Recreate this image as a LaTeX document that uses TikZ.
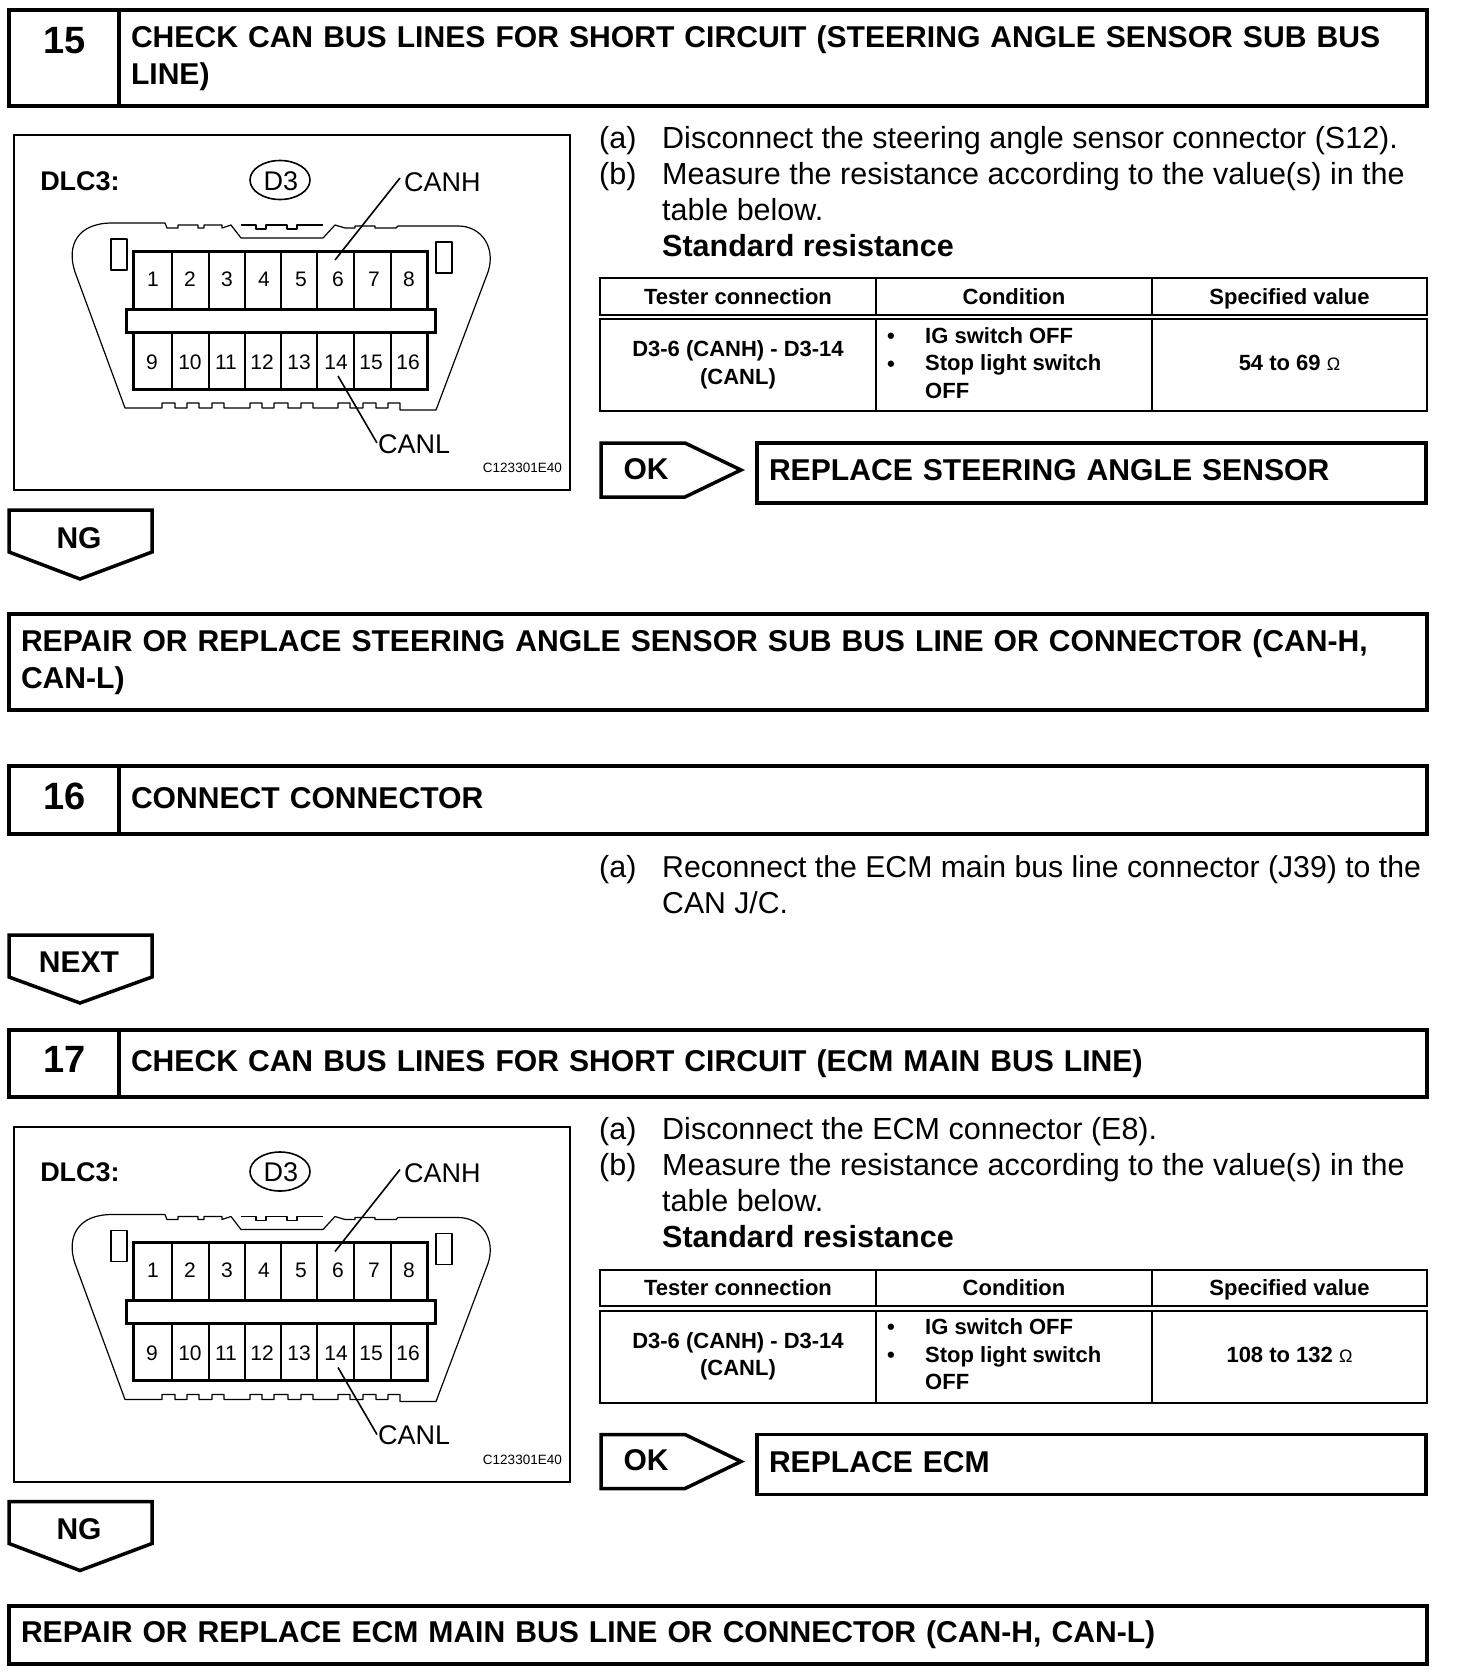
\documentclass[tikz,border=0pt]{standalone}
\usepackage{fontspec}
\setmainfont{Liberation Sans}
\usetikzlibrary{positioning,calc}

\tikzset{
  heavybox/.style={draw,line width=3.5pt,outer sep=0pt,anchor=north west,inner ysep=0pt,inner xsep=12pt,align=left,font=\fontsize{30.1}{37}\selectfont\bfseries},
  numbox/.style={draw,line width=3.5pt,outer sep=0pt,anchor=north west,inner sep=0pt,minimum width=110pt},
  numtext/.style={inner sep=0pt,font=\fontsize{38}{40}\selectfont\bfseries},
  flag/.style={draw,line width=3.5pt,line join=miter},
  flagtext/.style={inner sep=0pt,font=\fontsize{30}{32}\selectfont\bfseries},
  body/.style={anchor=north west,inner sep=0pt,align=left,font=\fontsize{30.5}{36}\selectfont},
  cell/.style={draw,line width=2pt,outer sep=0pt,anchor=north west,inner sep=0pt},
  celltext/.style={inner sep=0pt,align=center,font=\fontsize{22}{27.5}\selectfont\bfseries},
  headtext/.style={celltext,text height=16pt,text depth=0pt},
  pin/.style={inner sep=0pt,font=\fontsize{21}{21}\selectfont},
  tag/.style={inner sep=0pt,font=\fontsize{27}{28}\selectfont},
  shell/.style={line width=1.2pt,line join=round},
  wall/.style={line width=2.4pt},
  leader/.style={line width=1.6pt},
}

\begin{document}
\begin{tikzpicture}[x=1pt,y=-1pt]
\useasboundingbox (0,0) rectangle (1456,1678);

% step 15
\node[numbox,minimum height=96pt] (num15) at (9,10) {};
\node[numtext] (numt15) at (65,41) {15};
\node[heavybox,text width=1284pt,minimum height=96pt] (title15) at (119,10) {CHECK CAN BUS LINES FOR SHORT CIRCUIT (STEERING ANGLE SENSOR SUB BUS\\LINE)};
\node[heavybox,text width=1394pt,minimum height=96pt] (repair15) at (9,614) {REPAIR OR REPLACE STEERING ANGLE SENSOR SUB BUS LINE OR CONNECTOR (CAN-H,\\CAN-L)};

% step 16
\node[numbox,minimum height=68pt] (num16) at (9,766) {};
\node[numtext] (numt16) at (65,796) {16};
\node[heavybox,text width=1284pt,minimum height=68pt,text depth=4pt] (title16) at (119,766) {CONNECT CONNECTOR};
\node[body] (lab16) at (599,855) {(a)};
\node[body,font=\fontsize{30.2}{36}\selectfont] (txt16) at (662,855) {Reconnect the ECM main bus line connector (J39) to the\\CAN J/C.};
\draw[flag] (9,935) -- (152,935) -- (152,977) -- (80,1003) -- (9,977) -- cycle;
\node[flagtext] (next16) at (79,962) {NEXT};

% step 17
\node[numbox,minimum height=67pt] (num17) at (9,1030) {};
\node[numtext] (numt17) at (65,1059) {17};
\node[heavybox,text width=1284pt,minimum height=67pt] (title17) at (119,1030) {CHECK CAN BUS LINES FOR SHORT CIRCUIT (ECM MAIN BUS LINE)};
\node[heavybox,text width=1394pt,minimum height=58pt] (repair17) at (9,1606) {REPAIR OR REPLACE ECM MAIN BUS LINE OR CONNECTOR (CAN-H, CAN-L)};

% the two measuring steps
\foreach \sec/\dy/\part/\spec/\repl in {
  15/0/{Disconnect the steering angle sensor connector (S12).}/{54 to 69}/{REPLACE STEERING ANGLE SENSOR},
  17/991.5/{Disconnect the ECM connector (E8).}/{108 to 132}/{REPLACE ECM}} {
\begin{scope}[shift={(0,\dy)}]

\node[cell,minimum width=556pt,minimum height=355pt] (diag\sec) at (14,135) {};
\node[inner sep=0pt,font=\fontsize{27}{28}\selectfont\bfseries] (dlc\sec) at (80,181) {DLC3:};
\draw[line width=1.6pt] (280,180) ellipse (30 and 19.5);
\node[tag] (d3\sec) at (281,181) {D3};

% connector shell
\draw[shell] (125,408) -- (75,272) .. controls (66,245) and (78,223) .. (112,223) -- (165,223) -- (167,228)
  -- (178,228) -- (178,225) -- (198,225) -- (198,228) -- (204,228) -- (204,225) -- (222,225) -- (222,228) -- (231,225)
  -- (241,238) -- (323,238) -- (335,225) -- (345,228) -- (355,228) -- (355,226) -- (375,226) -- (375,228) -- (396,228) -- (398,226)
  -- (458,226) .. controls (482,226) and (496,248) .. (488,272) -- (436,410) -- (400,410)
  \foreach \l/\r in {388/400,363/376,338/350,301/313,274/288,250/262,212/224,187/199,162/175} { -- (\r,408) -- (\r,403) -- (\l,403) -- (\l,408)} -- cycle;
\draw[shell] (241,225) -- (256,225) -- (256,229) -- (266,229) -- (266,225) -- (287,225) -- (287,229) -- (297,229) -- (297,225) -- (323,225);
\draw[shell] (111,239) rectangle (127,270);
\draw[shell] (436,242) rectangle (452,273);

% pins
\draw[wall,line width=3pt] (133.5,251) rectangle (427.5,389);
\foreach \px in {172,209,245,281,317,354,391} {
  \draw[wall] (\px,251) -- (\px,389);
}
\draw[wall,line width=3pt,fill=white] (126,309) rectangle (435,332);
\foreach \k/\px in {1/153,2/190,3/227,4/264,5/301,6/338,7/374,8/409} {
  \node[pin] (pin\sec-\k) at (\px,279) {\k};
}
\foreach \k/\px in {9/152,10/190,11/226,12/262,13/299,14/336,15/371,16/408} {
  \node[pin] (pin\sec-\k) at (\px,362) {\k};
}

\coordinate (hi\sec) at (335,260);
\coordinate (hiend\sec) at (400,178);
\coordinate (lo\sec) at (338,376);
\coordinate (loend\sec) at (377,443);
\draw[leader] (hi\sec) -- (hiend\sec);
\draw[leader] (lo\sec) -- (loend\sec);
\node[tag,anchor=west] (canh\sec) at (404,182) {CANH};
\node[tag,anchor=west] (canl\sec) at (378,444) {CANL};
\node[inner sep=0pt,anchor=east,font=\fontsize{13.5}{14}\selectfont] (code\sec) at (562,468) {C123301E40};

% right column
\node[body] (laba\sec) at (599,126) {(a)};
\node[body] (txta\sec) at (662,126) {\part};
\node[body] (labb\sec) at (599,162) {(b)};
\node[body] (txtb\sec) at (662,162) {Measure the resistance according to the value(s) in the\\table below.\\\textbf{Standard resistance}};

% table
\node[cell,minimum width=276pt,minimum height=36.5pt] (hda\sec) at (600,278) {};
\node[cell,minimum width=276pt,minimum height=36.5pt] (hdb\sec) at (876,278) {};
\node[cell,minimum width=275pt,minimum height=36.5pt] (hdc\sec) at (1152,278) {};
\node[cell,minimum width=276pt,minimum height=92pt] (cla\sec) at (600,319) {};
\node[cell,minimum width=276pt,minimum height=92pt] (clb\sec) at (876,319) {};
\node[cell,minimum width=275pt,minimum height=92pt] (clc\sec) at (1152,319) {};
\node[headtext] (hta\sec) at (hda\sec.center) {Tester connection};
\node[headtext] (htb\sec) at (hdb\sec.center) {Condition};
\node[headtext] (htc\sec) at (hdc\sec.center) {Specified value};
\node[celltext] (cta\sec) at (cla\sec.center) {D3-6 (CANH) - D3-14\\(CANL)};
\node[celltext,anchor=north west,align=left] (ctb\sec) at (925,327) {IG switch OFF\\Stop light switch\\OFF};
\node[celltext] (bula\sec) at (891,338) {\textbullet};
\node[celltext] (bulb\sec) at (891,366) {\textbullet};
\node[celltext,yshift=2pt] (ctc\sec) at (clc\sec.center) {\spec{} \textmd{\fontsize{18}{20}\selectfont\char"03A9}};

% ok flag
\draw[flag] (601,443) -- (685,443) -- (741,470) -- (685,497) -- (601,497) -- cycle;
\node[flagtext] (ok\sec) at (646,469) {OK};
\node[heavybox,text width=645pt,minimum height=60pt,text depth=6pt] (repl\sec) at (757,443) {\repl};

% ng flag
\draw[flag] (9,510) -- (152,510) -- (152,552) -- (80,579) -- (9,552) -- cycle;
\node[flagtext] (ng\sec) at (79,538) {NG};
\end{scope}
}
\end{tikzpicture}
\end{document}
